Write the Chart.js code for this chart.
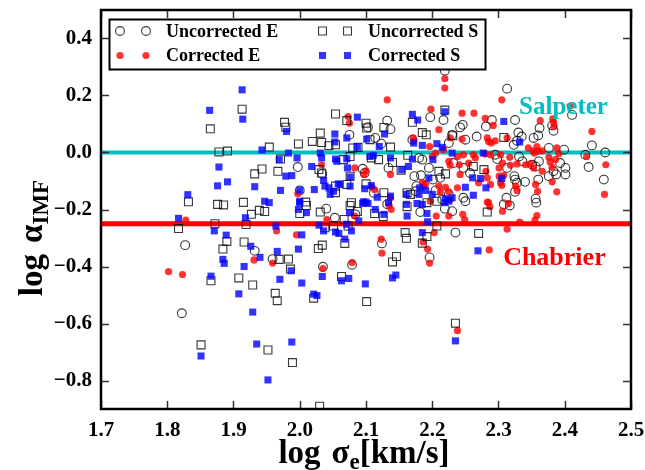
<!DOCTYPE html>
<html>
<head>
<meta charset="utf-8">
<script src="https://cdn.jsdelivr.net/npm/chart.js@4.4.0/dist/chart.umd.min.js"></script>
<style>
  html, body { margin: 0; padding: 0; background: #ffffff; }
  #wrap { width: 645px; height: 470px; }
</style>
</head>
<body>
<div id="wrap"><canvas id="chart" width="645" height="470"></canvas></div>
<script>
// log sigma_e [km/s] vs log alpha_IMF, one [sigma, alpha] pair per galaxy
const uncorrectedE = [
  [1.827,-0.325],[1.932,-0.345],[1.959,-0.374],[1.822,-0.564],
  [2.040,-0.197],[2.132,-0.182],[2.182,-0.209],[2.219,-0.197],[2.235,-0.281],[2.230,-0.206],[2.196,-0.368],[2.124,-0.319],[2.079,-0.394],[2.035,-0.401],[2.053,-0.229],[2.084,-0.217],
  [2.308,-0.182],[2.317,-0.186],[2.357,-0.176],
  [2.103,0.089],[2.132,0.112],[2.137,0.082],[2.197,0.124],[2.217,0.114],[2.075,0.062],[2.114,0.051],[2.123,0.031],[2.170,0.045],[2.225,0.033],[2.230,0.062],
  [2.180,-0.019],[2.185,-0.025],[2.195,-0.054],[1.997,-0.051],[2.034,-0.075],[2.095,-0.057],[2.098,-0.072],[2.134,-0.054],[2.173,-0.083],[2.183,-0.080],[2.201,-0.095],[2.212,-0.089],[2.112,-0.141],[2.000,-0.133],[2.176,-0.118],[2.175,-0.136],[2.205,-0.133],[2.215,-0.165],[2.225,-0.147],
  [2.246,0.097],[2.242,0.088],[2.281,0.091],[2.290,0.114],[2.325,0.114],[2.362,0.086],[2.381,0.095],[2.383,0.076],[2.411,0.132],[2.267,0.056],[2.250,0.045],[2.330,0.070],[2.335,0.056],[2.328,0.041],[2.353,0.051],[2.360,0.060],[2.323,0.027],[2.376,0.016],[2.399,0.010],[2.441,0.025],[2.431,-0.008],[2.436,-0.051],[2.461,0.000],
  [2.295,-0.008],[2.298,-0.023],[2.331,-0.014],[2.336,-0.031],[2.351,-0.043],[2.356,-0.049],[2.361,-0.031],[2.393,-0.037],[2.401,-0.054],[2.383,-0.066],[2.387,-0.077],[2.232,-0.037],[2.247,-0.054],[2.257,-0.072],[2.313,-0.054],[2.324,-0.083],[2.325,-0.095],[2.340,-0.103],[2.328,-0.106],
  [2.247,-0.159],[2.250,-0.171],[2.312,-0.159],[2.325,-0.138],[2.356,-0.162],[2.360,-0.095],[2.376,-0.083],[2.401,-0.077],[2.459,-0.095],
  [2.219,0.287],[2.313,0.224]
];

const correctedE = [
  [1.802,-0.418],[1.823,-0.428],[1.828,-0.237],[1.931,-0.377],[1.959,-0.388],[1.965,-0.275],
  [2.135,-0.186],[2.138,-0.200],[2.206,-0.223],[2.203,-0.281],[2.225,-0.223],[2.186,-0.314],[2.193,-0.339],[2.196,-0.388],[2.123,-0.304],[2.124,-0.353],[2.079,-0.386],[2.035,-0.407],[2.041,-0.235],[2.083,-0.223],[1.995,-0.289],
  [2.246,-0.217],[2.249,-0.235],[2.285,-0.176],[2.287,-0.190],[2.306,-0.206],[2.315,-0.179],[2.358,-0.221],[2.355,-0.237],[2.332,-0.244],[2.313,-0.269],[2.286,-0.342],
  [2.073,0.126],[2.075,0.103],[2.198,0.152],[2.210,0.080],[2.171,0.051],[2.172,0.041],[2.196,0.021],[2.205,-0.002],[2.200,-0.014],[2.217,0.010],[2.225,-0.031],[2.227,-0.045],
  [2.033,-0.043],[2.083,-0.054],[2.100,-0.064],[2.097,-0.077],[2.137,-0.077],[2.185,-0.106],[2.187,-0.118],[2.109,-0.122],[2.113,-0.130],[1.997,-0.145],[2.190,-0.110],[2.210,-0.118],[2.212,-0.139],[2.220,-0.122],[2.225,-0.138],[2.197,-0.171],[2.227,-0.165],[2.137,-0.159],
  [2.219,0.259],[2.219,0.226],[2.132,0.185],[2.305,0.185],[2.408,0.163],
  [2.245,0.138],[2.263,0.138],[2.280,0.120],[2.292,0.095],[2.363,0.112],[2.382,0.118],[2.383,0.106],[2.384,0.091],[2.441,0.074],
  [2.227,0.051],[2.245,0.047],[2.283,0.051],[2.285,0.039],[2.289,0.033],[2.295,0.041],[2.313,0.051],[2.345,0.016],[2.358,0.021],[2.360,0.004],[2.352,0.006],[2.354,-0.002],[2.366,0.006],[2.388,0.016],[2.391,-0.004],[2.386,-0.025],[2.433,-0.014],[2.462,-0.043],
  [2.238,-0.014],[2.247,-0.008],[2.262,-0.008],[2.280,-0.005],[2.265,-0.019],[2.288,-0.008],[2.303,-0.008],[2.317,-0.017],[2.348,-0.040],[2.353,-0.054],[2.376,-0.017],[2.378,-0.033],[2.381,-0.052],[2.366,-0.066],
  [2.241,-0.043],[2.255,-0.037],[2.242,-0.077],[2.281,-0.066],[2.301,-0.054],[2.306,-0.037],[2.318,-0.045],[2.328,-0.040],[2.341,-0.043],[2.283,-0.089],[2.301,-0.083],[2.308,-0.080],[2.326,-0.118],
  [2.238,-0.124],[2.270,-0.106],[2.288,-0.112],[2.303,-0.106],[2.305,-0.115],[2.356,-0.112],[2.359,-0.136],[2.381,-0.103],[2.388,-0.138],[2.460,-0.147],[2.328,-0.133],[2.283,-0.174],[2.238,-0.625]
];

const uncorrectedS = [
  [1.913,0.152],[1.865,0.083],[1.878,0.002],[1.891,0.005],[1.954,0.019],[1.943,-0.058],[1.932,-0.075],[1.967,-0.066],[1.832,-0.173],[1.876,-0.182],[1.885,-0.184],[1.915,-0.175],
  [1.927,-0.217],[1.939,-0.203],[1.947,-0.207],[1.817,-0.267],[1.872,-0.250],[1.919,-0.253],[1.890,-0.312],[1.884,-0.339],[1.916,-0.314],[1.969,-0.375],[1.866,-0.450],[1.908,-0.440],[1.929,-0.465],[1.963,-0.494],[1.966,-0.520],[1.851,-0.675],[1.952,-0.693],
  [2.021,-0.511],[2.101,-0.523],[1.989,-0.737],[2.235,-0.599],[2.030,-0.890],
  [2.010,-0.186],[2.000,-0.214],[2.076,-0.186],[2.087,-0.207],[2.113,-0.214],[2.126,-0.225],[2.162,-0.190],[2.192,-0.176],[2.207,-0.171],[2.207,-0.258],[2.192,-0.295],[2.159,-0.281],[2.161,-0.301],[2.185,-0.318],[2.146,-0.365],[2.140,-0.384],[1.986,-0.409],[2.063,-0.435],[1.983,-0.374],[2.028,-0.337],[2.034,-0.325],[2.068,-0.319],[2.038,-0.264],[2.051,-0.258],[2.031,-0.209],[2.067,-0.235],[2.073,-0.258],
  [2.283,-0.209],[2.270,-0.284],
  [2.054,0.135],[1.977,0.106],[1.979,0.089],[2.071,0.112],[2.100,0.103],[2.101,0.086],[2.127,0.088],[2.170,0.106],[2.219,0.149],[2.031,0.068],[2.019,0.039],[2.033,0.035],[2.106,0.045],[2.080,0.016],[2.088,0.018],[1.998,0.030],[2.044,0.024],[2.054,0.027],[2.137,0.019],[2.185,0.070],[2.191,0.062],
  [1.971,-0.023],[2.066,-0.025],[2.076,-0.014],[2.108,-0.019],[2.119,-0.025],[2.140,-0.035],[2.163,-0.010],[2.029,-0.060],[2.033,-0.072],[2.076,-0.083],[2.153,-0.062],[2.220,-0.075],[2.210,-0.066],[2.054,-0.118],[2.071,-0.112],[2.100,-0.110],[2.127,-0.141],[2.162,-0.141],[2.167,-0.147],[2.054,-0.141],[2.078,-0.176],[2.009,-0.174],
  [2.231,0.059],[2.308,0.053],[2.262,-0.049],[2.278,-0.060]
];

const correctedS = [
  [1.913,0.220],[1.864,0.148],[1.914,0.117],[1.943,0.009],[1.969,-0.025],[1.878,-0.051],[1.876,-0.117],[1.891,-0.103],[1.932,-0.120],[1.831,-0.148],[1.947,-0.171],[1.954,-0.176],[1.971,-0.133],[1.817,-0.231],[1.871,-0.275],[1.918,-0.229],[1.964,-0.258],[1.889,-0.290],[1.926,-0.329],[1.940,-0.368],[1.884,-0.375],[1.886,-0.389],[1.966,-0.347],[1.916,-0.400],[1.866,-0.434],[1.970,-0.445],[1.908,-0.496],[1.929,-0.560],[1.851,-0.714],[1.935,-0.672],[1.952,-0.798],[2.026,-0.502],[2.021,-0.497],[1.988,-0.665],[2.235,-0.661],
  [2.000,-0.176],[1.998,-0.200],[2.010,-0.211],[2.095,-0.179],[2.103,-0.179],[2.075,-0.211],[2.114,-0.200],[2.127,-0.217],[2.134,-0.176],[2.161,-0.182],[2.162,-0.223],[2.177,-0.179],[2.185,-0.182],[2.192,-0.214],[2.219,-0.176],[2.193,-0.243],[2.185,-0.281],[1.987,-0.415],[2.003,-0.458],[2.034,-0.435],[2.063,-0.450],[2.074,-0.442],[2.099,-0.461],[2.140,-0.440],[2.145,-0.430],[1.998,-0.339],[2.068,-0.304],[2.029,-0.255],[2.036,-0.275],[2.054,-0.279],[2.059,-0.284],[2.071,-0.252],[2.078,-0.275],[2.089,-0.240],[2.003,-0.289],[2.269,-0.345],
  [1.980,0.074],[2.087,0.124],[2.128,0.065],[2.170,0.134],[2.178,0.114],[2.219,0.143],[2.053,0.065],[2.071,0.051],[2.101,0.047],[2.053,0.037],[2.120,0.021],[2.172,0.033],[2.185,0.025],[2.207,0.031],[2.215,0.018],[2.230,-0.002],[1.983,-0.002],[1.996,-0.019],[2.031,-0.002],[2.033,-0.019],[2.054,-0.023],[2.056,-0.031],[2.071,-0.022],[2.087,0.019],[2.106,-0.014],[2.111,-0.010],[2.137,-0.019],[2.170,-0.023],[2.164,-0.049],[2.201,-0.025],[2.018,-0.049],[1.979,-0.083],[1.988,-0.081],[2.072,-0.054],[2.076,-0.086],[2.154,-0.060],[2.195,-0.089],
  [2.036,-0.098],[2.038,-0.118],[2.044,-0.124],[2.058,-0.110],[2.061,-0.112],[2.076,-0.118],[2.098,-0.127],[2.108,-0.116],[2.000,-0.132],[2.022,-0.130],[2.117,-0.157],[2.137,-0.153],[2.161,-0.147],[2.181,-0.124],[2.190,-0.133],[2.180,-0.147],[2.200,-0.147],[2.220,-0.162],[2.225,-0.171],[2.230,-0.159],[2.046,-0.147],[2.051,-0.136],[2.096,-0.173],[2.100,-0.174],[2.000,-0.171],
  [2.308,0.109],[2.332,0.037],[2.277,-0.002],[2.261,-0.089],[2.273,-0.091],[2.305,-0.091],[2.250,-0.122],[2.262,-0.150],[2.281,-0.124]
];

// reference IMF normalisations (log alpha)
const salpeterLevel = 0.0;
const chabrierLevel = -0.25;

// axis ranges and ticks
const xRange = [1.7, 2.5];
const yRange = [-0.9, 0.5];
const xTicks = [1.7, 1.8, 1.9, 2.0, 2.1, 2.2, 2.3, 2.4, 2.5];
const xTickLabels = ['1.7', '1.8', '1.9', '2.0', '2.1', '2.2', '2.3', '2.4', '2.5'];
const yTicks = [-0.8, -0.6, -0.4, -0.2, 0.0, 0.2, 0.4];
const yTickLabels = ['\u22120.8', '\u22120.6', '\u22120.4', '\u22120.2', '0.0', '0.2', '0.4'];

const SERIF = '"Liberation Serif", "Times New Roman", serif';
const toXY = arr => arr.map(p => ({ x: p[0], y: p[1] }));

const styles = {
  uncorrectedE: { pointStyle: 'circle', radius: 4.4, backgroundColor: 'rgba(0,0,0,0)', borderColor: 'rgba(0,0,0,0.78)', borderWidth: 1.1 },
  correctedE:   { pointStyle: 'circle', radius: 3.6, backgroundColor: 'rgba(255,0,0,0.8)', borderColor: 'rgba(255,0,0,0)', borderWidth: 0 },
  uncorrectedS: { pointStyle: 'rect', radius: 5.6, backgroundColor: 'rgba(0,0,0,0)', borderColor: 'rgba(0,0,0,0.78)', borderWidth: 1.1 },
  correctedS:   { pointStyle: 'rect', radius: 5.0, backgroundColor: 'rgba(0,0,255,0.8)', borderColor: 'rgba(0,0,255,0)', borderWidth: 0 }
};

function scatterSet(label, arr, st, order) {
  return {
    type: 'scatter', label, data: toXY(arr), order,
    pointStyle: st.pointStyle, pointRadius: st.radius, pointHoverRadius: st.radius,
    pointBackgroundColor: st.backgroundColor, pointBorderColor: st.borderColor,
    pointBorderWidth: st.borderWidth, showLine: false
  };
}

function levelLine(label, level, color, width) {
  return {
    type: 'line', label, order: 10,
    data: [{ x: xRange[0], y: level }, { x: xRange[1], y: level }],
    borderColor: color, borderWidth: width, pointRadius: 0, pointHoverRadius: 0, tension: 0
  };
}

// draws a run of text pieces; smaller pieces are lowered as subscripts
function drawRichText(ctx, pieces, x, y) {
  let cx = x;
  pieces.forEach(p => {
    ctx.font = 'bold ' + p.size + 'px ' + SERIF;
    ctx.fillText(p.t, cx, y + (p.dy || 0));
    cx += ctx.measureText(p.t).width + (p.gap || 0);
  });
  return cx - x;
}
function richWidth(ctx, pieces) {
  let w = 0;
  pieces.forEach(p => { ctx.font = 'bold ' + p.size + 'px ' + SERIF; w += ctx.measureText(p.t).width + (p.gap || 0); });
  return w;
}

const decorPlugin = {
  id: 'decor',
  afterDatasetsDraw(chart) {
    const { ctx, chartArea: a, scales: { x, y } } = chart;
    ctx.save();
    // reference level labels
    ctx.textBaseline = 'alphabetic';
    ctx.textAlign = 'left';
    ctx.font = 'bold 25px ' + SERIF;
    ctx.fillStyle = '#00bfbf';
    ctx.fillText('Salpeter', x.getPixelForValue(2.331), y.getPixelForValue(0.136));
    ctx.font = 'bold 26px ' + SERIF;
    ctx.fillStyle = '#ff0000';
    ctx.fillText('Chabrier', x.getPixelForValue(2.307), y.getPixelForValue(-0.394));

    // inward tick marks on all four sides
    ctx.strokeStyle = '#333333';
    ctx.lineWidth = 1.5;
    const tl = 8;
    ctx.beginPath();
    xTicks.forEach(v => {
      const px = Math.round(x.getPixelForValue(v)) + 0.5;
      ctx.moveTo(px, a.bottom); ctx.lineTo(px, a.bottom - tl);
      ctx.moveTo(px, a.top); ctx.lineTo(px, a.top + tl);
    });
    yTicks.forEach(v => {
      const py = Math.round(y.getPixelForValue(v)) + 0.5;
      ctx.moveTo(a.left, py); ctx.lineTo(a.left + tl, py);
      ctx.moveTo(a.right, py); ctx.lineTo(a.right - tl, py);
    });
    ctx.stroke();

    // frame
    ctx.strokeStyle = '#000000';
    ctx.lineWidth = 2.5;
    ctx.strokeRect(a.left, a.top, a.right - a.left, a.bottom - a.top);
    ctx.restore();
  },
  afterDraw(chart) {
    const { ctx, chartArea: a } = chart;
    ctx.save();
    ctx.fillStyle = '#000000';
    ctx.textBaseline = 'alphabetic';
    ctx.textAlign = 'left';

    // x axis title: log sigma_e [km/s]
    const xt = [
      { t: 'log', size: 33, gap: 11 },
      { t: '\u03c3', size: 33 },
      { t: 'e', size: 23, dy: 6 },
      { t: '[km/s]', size: 33 }
    ];
    const xw = richWidth(ctx, xt);
    drawRichText(ctx, xt, (a.left + a.right) / 2 - xw / 2 - 2, 463);

    // y axis title: log alpha_IMF (rotated)
    const yt = [
      { t: 'log', size: 33, gap: 11 },
      { t: '\u03b1', size: 33 },
      { t: 'IMF', size: 23, dy: 6 }
    ];
    const yw = richWidth(ctx, yt);
    ctx.save();
    ctx.translate(42, 238);
    ctx.rotate(-Math.PI / 2);
    drawRichText(ctx, yt, -yw / 2, 0);
    ctx.restore();

    // legend box, two columns, two markers per entry
    const L = { left: 109.5, top: 19.5, right: 485.5, bottom: 69.5 };
    ctx.fillStyle = '#ffffff';
    ctx.fillRect(L.left, L.top, L.right - L.left, L.bottom - L.top);
    ctx.strokeStyle = '#000000';
    ctx.lineWidth = 2;
    ctx.strokeRect(L.left, L.top, L.right - L.left, L.bottom - L.top);
    const entries = [
      { label: 'Uncorrected E', st: styles.uncorrectedE, mx: [120, 146], tx: 166, cy: 31 },
      { label: 'Corrected E',   st: styles.correctedE,   mx: [120, 146], tx: 166, cy: 55.5 },
      { label: 'Uncorrected S', st: styles.uncorrectedS, mx: [322.5, 347.5], tx: 368, cy: 31 },
      { label: 'Corrected S',   st: styles.correctedS,   mx: [322.5, 347.5], tx: 368, cy: 55.5 }
    ];
    entries.forEach(e => {
      e.mx.forEach(mx => {
        ctx.fillStyle = e.st.backgroundColor;
        ctx.strokeStyle = e.st.borderColor;
        ctx.lineWidth = e.st.borderWidth;
        Chart.helpers.drawPoint(ctx, { pointStyle: e.st.pointStyle, radius: e.st.radius, rotation: 0, borderWidth: e.st.borderWidth }, mx, e.cy);
      });
      ctx.fillStyle = '#000000';
      ctx.font = 'bold 18px ' + SERIF;
      ctx.textBaseline = 'middle';
      ctx.fillText(e.label, e.tx, e.cy + 1);
    });
    ctx.restore();
  }
};

const chart = new Chart(document.getElementById('chart'), {
  data: {
    datasets: [
      levelLine('Salpeter', salpeterLevel, '#00bfbf', 4),
      levelLine('Chabrier', chabrierLevel, '#ff0000', 5),
      scatterSet('Uncorrected E', uncorrectedE, styles.uncorrectedE, 4),
      scatterSet('Corrected E', correctedE, styles.correctedE, 3),
      scatterSet('Uncorrected S', uncorrectedS, styles.uncorrectedS, 2),
      scatterSet('Corrected S', correctedS, styles.correctedS, 1)
    ]
  },
  options: {
    responsive: false,
    devicePixelRatio: 1,
    animation: false,
    events: [],
    layout: { padding: { top: 10, right: 14, left: 0, bottom: 0 } },
    plugins: { legend: { display: false }, tooltip: { enabled: false }, title: { display: false } },
    scales: {
      x: {
        type: 'linear', min: xRange[0], max: xRange[1],
        grid: { display: false, drawTicks: false },
        border: { display: false },
        afterBuildTicks: s => { s.ticks = xTicks.map(v => ({ value: v })); },
        afterFit: s => { s.height = 61; s.paddingLeft = 0; s.paddingRight = 0; },
        ticks: {
          padding: 9, color: '#000000',
          font: { family: SERIF, size: 21, weight: 'bold' },
          maxRotation: 0, autoSkip: false,
          callback: v => xTickLabels[xTicks.findIndex(t => Math.abs(t - v) < 1e-9)]
        }
      },
      y: {
        type: 'linear', min: yRange[0], max: yRange[1],
        grid: { display: false, drawTicks: false },
        border: { display: false },
        afterBuildTicks: s => { s.ticks = yTicks.map(v => ({ value: v })); },
        afterFit: s => { s.width = 101; s.paddingTop = 0; s.paddingBottom = 0; },
        ticks: {
          padding: 9, color: '#000000',
          font: { family: SERIF, size: 21, weight: 'bold' },
          autoSkip: false,
          callback: v => yTickLabels[yTicks.findIndex(t => Math.abs(t - v) < 1e-9)]
        }
      }
    }
  },
  plugins: [decorPlugin]
});
</script>
</body>
</html>
